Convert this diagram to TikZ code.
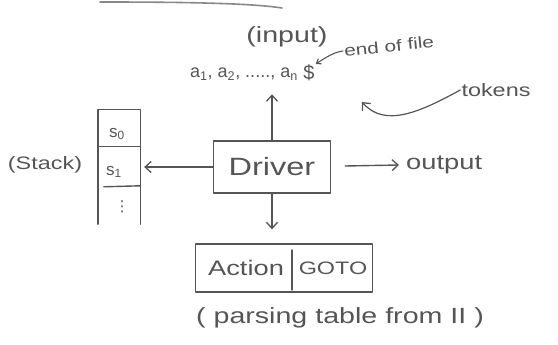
\documentclass[tikz,border=0pt]{standalone}
\usepackage{fontspec}
\setmainfont{Liberation Sans}
\newfontfamily\wide[FakeStretch=1.3]{Liberation Sans}
\newfontfamily\symfont{DejaVu Sans}
\usetikzlibrary{arrows.meta}
\definecolor{pen}{HTML}{555555}
\tikzset{
  ink/.style={draw=pen, line width=1.4pt, line cap=round, line join=round},
  arr/.style={ink, -{Straight Barb[length=6pt,width=11pt,line width=1.3pt]}},
  lbl/.style={text=pen, inner sep=1pt},
  box/.style={ink, rectangle, text=pen},
  fs/.style={font=\wide\fontsize{#1}{#1}\selectfont},
}
\begin{document}
\begin{tikzpicture}[x=1pt,y=-1pt]
\useasboundingbox (0,0) rectangle (558,345);

% stray stroke at the top
\draw[draw=pen!70, line width=1.6pt, line cap=round] (100,2) .. controls (180,2) and (250,3) .. (282,8);

% input string
\node[lbl, fs=22] (input) at (287,37) {(input)};
\node[lbl, font=\fontsize{18}{20}\selectfont, anchor=base] (seq) at (244,78) {a\textsubscript{1}, a\textsubscript{2}, ....., a\textsubscript{n}};
\node[lbl, font=\fontsize{20}{20}\selectfont, anchor=base] (dollar) at (309,80) {\$};
\node[lbl, fs=16, rotate=6, anchor=west] (eof) at (343,51) {end of file};
\draw[ink, line width=1.1pt, -{Straight Barb[length=4pt,width=6pt]}] (eof.west) .. controls (334,52) and (325,58) .. (dollar.north east);
\node[lbl, fs=18] (tokens) at (496,90) {tokens};
\coordinate (tokhead) at (362,102);
\draw[arr, line width=1.2pt] (tokens.west) .. controls (420,112) and (385,128) .. (tokhead);

% driver
\node[box, minimum width=117pt, minimum height=52pt, fs=25] (driver) at (272,167) {Driver};
\draw[arr] (driver.north) -- ++(0,-46) coordinate (uptip);
\node[lbl, fs=21, anchor=west] (output) at (405,165) {output};
\draw[arr] ([xshift=14pt,yshift=1pt]driver.east) -- ([xshift=-6pt]output.west);

% stack
\node[minimum width=42pt, minimum height=114pt, inner sep=0pt] (stack) at (119,167) {};
\draw[ink] (stack.south west) -- (stack.north west) -- (stack.north east) -- (stack.south east);
\draw[ink] ([yshift=-37pt]stack.north west) -- ([yshift=-37pt]stack.north east);
\draw[ink] ([xshift=6pt,yshift=-77pt]stack.north west) -- ([yshift=-76pt]stack.north east);
\node[lbl, font=\fontsize{17}{17}\selectfont] (s0) at (117,134) {s\textsubscript{0}};
\node[lbl, font=\fontsize{17}{17}\selectfont] (s1) at (114,172) {s\textsubscript{1}};
\node[lbl, font=\symfont\fontsize{15}{15}\selectfont] (sdots) at (122,207) {⋮};
\node[lbl, fs=18] (stacklbl) at (45,165) {(Stack)};
\draw[arr] (driver.west) -- ([xshift=4pt]stack.east |- driver.west);

% parsing table
\node[box, minimum width=177pt, minimum height=48pt] (table) at (284,268) {};
\draw[ink] (292,250) -- (292,290);
\node[lbl, fs=21] (action) at (246,268) {Action};
\node[lbl, fs=18] (goto) at (333,268) {GOTO};
\draw[arr] (driver.south) -- ([yshift=14pt]driver.south |- table.north);
\node[lbl, fs=22] (tablelbl) at (340,318) {( parsing table from II )};
\end{tikzpicture}
\end{document}
